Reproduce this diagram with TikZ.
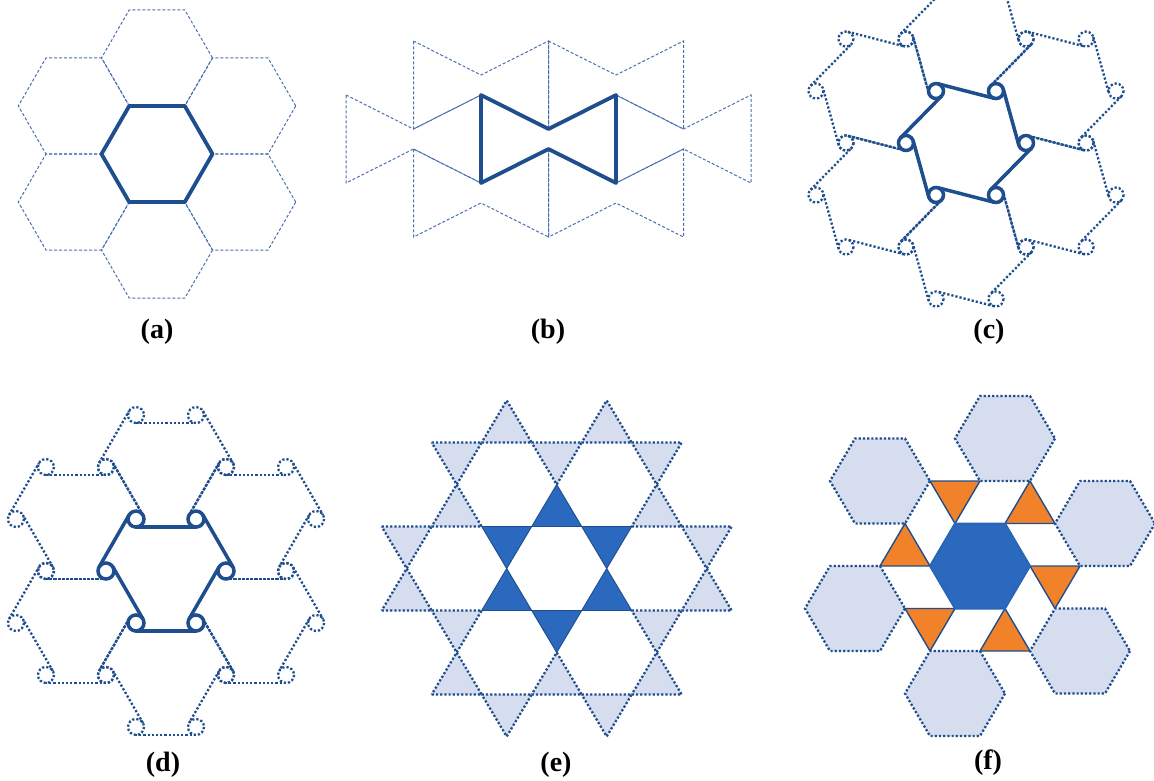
\documentclass[tikz,border=0pt]{standalone}
\usepackage{fontspec}
\setmainfont{Liberation Serif}
\usetikzlibrary{calc}
\definecolor{dkline}{HTML}{1F4E8F}
\definecolor{dashblue}{HTML}{4A70B3}
\definecolor{lightfill}{HTML}{D6DDEE}
\definecolor{darkfill}{HTML}{2A69BE}
\definecolor{orangefill}{HTML}{F2822A}
\newcommand\hexshape[1]{(0:#1) -- (60:#1) -- (120:#1) -- (180:#1) -- (240:#1) -- (300:#1) -- cycle}
\newcommand\bowtieshape{(0,0) -- (67.5,34) -- (135,0) -- (135,88) -- (67.5,54) -- (0,88) -- cycle}
% chiral ring (c): circles at hexagon vertices, cross tangents
\newcommand\ringCbody[2]{%
  \foreach \k in {0,...,5}{%
    \pgfmathsetmacro\aA{60*\k}%
    \pgfmathsetmacro\aB{60*\k+60}%
    \pgfmathsetmacro\tA{60*\k+44.5}%
    \pgfmathsetmacro\tB{60*\k+224.5}%
    \draw[#1] ([shift={(\tA:7.5)}]\aA:60) -- ([shift={(\tB:7.5)}]\aB:60);
    \draw[#2] (\aA:60) circle[radius=7.5];
  }}
% ring (d): circles at hexagon vertices, offset tangents
\newcommand\ringDbody[2]{%
  \foreach \k in {0,...,5}{%
    \pgfmathsetmacro\aA{60*\k}%
    \pgfmathsetmacro\aB{60*\k+60}%
    \pgfmathsetmacro\oA{60*\k+30+180*(1-mod(\k,2))}%
    \draw[#1] ([shift={(\oA:8)}]\aA:60) -- ([shift={(\oA:8)}]\aB:60);
    \draw[#2] (\aA:60) circle[radius=8];
  }}
\tikzset{
  dashline/.style={draw=dashblue, line width=1pt, dash pattern=on 3pt off 2pt},
  boldline/.style={draw=dkline, line width=3.8pt, line join=round},
  dotline/.style={draw=dkline, line width=2.3pt, dash pattern=on 2.2pt off 2pt},
  ringsolid/.style={draw=dkline, line width=3.5pt},
  lighttri/.style={fill=lightfill, dotline},
  darktri/.style={fill=darkfill, draw=dkline, line width=0.9pt, line join=round},
  orangetri/.style={fill=orangefill, draw=dkline, line width=1.4pt, line join=round},
  centerhex/.style={fill=darkfill, draw=darkfill!85!dkline, line width=2pt, line join=round},
  lbl/.style={font=\fontsize{28}{32}\selectfont\bfseries, inner sep=0pt}
}
\begin{document}
\begin{tikzpicture}[x=1pt,y=-1pt]
\useasboundingbox (0,0) rectangle (1154,780);
\fill[white] (0,0) rectangle (1154,780);

% ---------- (a)
\begin{scope}[shift={(157,154)}]
  \foreach \ang in {30,90,...,330}{
    \begin{scope}[shift={(\ang:96.1)}]
      \draw[dashline] \hexshape{55.5};
    \end{scope}
  }
  \draw[boldline] \hexshape{55.5};
\end{scope}

% ---------- (b)
\foreach \dx/\dy in {-67.5/-54, 67.5/-54, -135/0, 135/0, -67.5/54, 67.5/54}{
  \begin{scope}[shift={(481+\dx,95+\dy)}]
    \draw[dashline] \bowtieshape;
  \end{scope}
}
\begin{scope}[shift={(481,95)}]
  \draw[boldline] \bowtieshape;
\end{scope}

% ---------- (c)
\begin{scope}
\clip (780,0) rectangle (1154,320);
\begin{scope}[shift={(966,143)}]
  \foreach \ang in {30,90,...,330}{
    \begin{scope}[shift={(\ang:104)}]
      \ringCbody{dotline}{dotline}
    \end{scope}
  }
  \ringCbody{ringsolid, line cap=round}{ringsolid}
\end{scope}
\end{scope}

% ---------- (d)
\begin{scope}[shift={(166,571)}]
  \foreach \ang in {30,90,...,330}{
    \begin{scope}[shift={(\ang:104)}]
      \ringDbody{dotline}{dotline}
    \end{scope}
  }
  \ringDbody{ringsolid, line cap=round}{ringsolid}
\end{scope}

% ---------- (e)
\begin{scope}[shift={(556.7,568.5)}, x=25pt, y=-42pt]
  \foreach \m/\n in {-3/-3, 1/-3, -5/-1, 3/-1, -7/1, 5/1, -5/3, -1/3, 3/3}
    \draw[lighttri] (\m,\n) -- ++(2,0) -- ++(-1,-1) -- cycle;
  \foreach \m/\n in {-5/-3, -1/-3, 3/-3, -7/-1, 5/-1, -5/1, 3/1, -3/3, 1/3}
    \draw[lighttri] (\m,\n) -- ++(2,0) -- ++(-1,1) -- cycle;
  \foreach \m/\n in {-1/-1, -3/1, 1/1}
    \draw[darktri] (\m,\n) -- ++(2,0) -- ++(-1,-1) -- cycle;
  \foreach \m/\n in {-3/-1, 1/-1, -1/1}
    \draw[darktri] (\m,\n) -- ++(2,0) -- ++(-1,1) -- cycle;
\end{scope}

% ---------- (f)
\begin{scope}[shift={(980,566)}, x=25pt, y=-42.5pt]
  \foreach \m/\n in {-4/-2, 1/-3, 5/-1, 4/2, -1/3, -5/1}
    \draw[lighttri] (\m+2,\n) -- ++(-1,1) -- ++(-2,0) -- ++(-1,-1) -- ++(1,-1) -- ++(2,0) -- cycle;
  \draw[orangetri] (-2,-2) -- (0,-2) -- (-1,-1) -- cycle;
  \draw[orangetri] (1,-1) -- (3,-1) -- (2,-2) -- cycle;
  \draw[orangetri] (2,0) -- (4,0) -- (3,1) -- cycle;
  \draw[orangetri] (0,2) -- (2,2) -- (1,1) -- cycle;
  \draw[orangetri] (-3,1) -- (-1,1) -- (-2,2) -- cycle;
  \draw[orangetri] (-4,0) -- (-2,0) -- (-3,-1) -- cycle;
  \draw[centerhex] (2,0) -- (1,1) -- (-1,1) -- (-2,0) -- (-1,-1) -- (1,-1) -- cycle;
\end{scope}

% ---------- labels
\node[lbl] (la) at (157,332) {(a)};
\node[lbl] (lb) at (548,332) {(b)};
\node[lbl] (lc) at (989,332) {(c)};
\node[lbl] (ld) at (163,765) {(d)};
\node[lbl] (le) at (556,765) {(e)};
\node[lbl] (lf) at (988,763) {(f)};
\end{tikzpicture}
\end{document}
